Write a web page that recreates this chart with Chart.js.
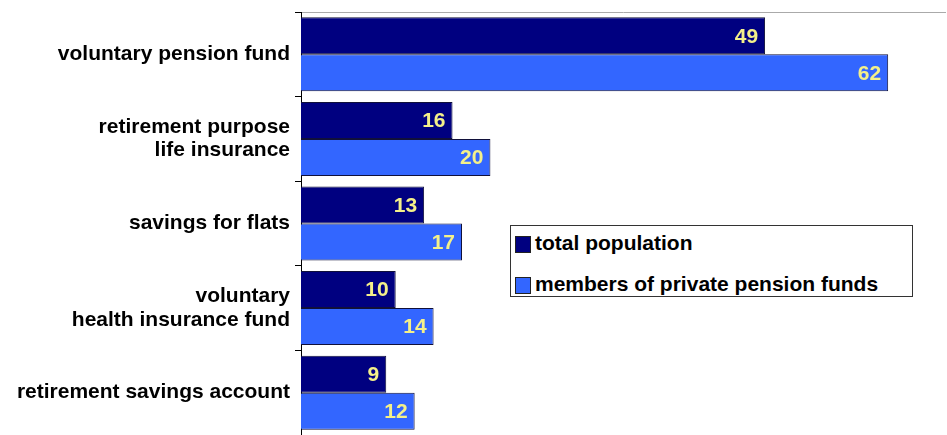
<!DOCTYPE html>
<html>
<head>
<meta charset="utf-8">
<script src="https://cdn.jsdelivr.net/npm/chart.js@4.4.0/dist/chart.umd.min.js"></script>
<style>
  html, body { margin: 0; padding: 0; background: #fff; }
  #wrap { position: relative; width: 947px; height: 435px; }
  #legend {
    position: absolute; left: 510px; top: 225px; width: 403px; height: 72px;
    border: 1px solid #333; background: #fff; box-sizing: border-box;
    font: bold 21px "Liberation Sans", Arial, sans-serif; color: #000; line-height: 24px;
  }
  #legend div { position: absolute; left: 4px; white-space: nowrap; }
  #legend span { display: inline-block; width: 14px; height: 15px; border: 1px solid #222; margin-right: 4px; vertical-align: -3px; }
</style>
</head>
<body>
<div id="wrap">
  <canvas id="chart" width="947" height="435"></canvas>
  <div id="legend"></div>
</div>
<script>
const categories = [
  'voluntary pension fund',
  ['retirement purpose', 'life insurance'],
  'savings for flats',
  ['voluntary', 'health insurance fund'],
  'retirement savings account'
];
const seriesNames = ['total population', 'members of private pension funds'];
const totalPopulation = [49, 16, 13, 10, 9];
const pensionMembers = [62, 20, 17, 14, 12];
const seriesColors = ['#000080', '#3366ff'];

const valueLabels = {
  id: 'valueLabels',
  afterDatasetsDraw(chart) {
    const ctx = chart.ctx;
    ctx.save();
    ctx.font = 'bold 21px "Liberation Sans", Arial, sans-serif';
    ctx.fillStyle = '#f4f08a';
    ctx.textAlign = 'right';
    ctx.textBaseline = 'middle';
    chart.data.datasets.forEach((ds, i) => {
      chart.getDatasetMeta(i).data.forEach((bar, j) => {
        ctx.fillText(String(ds.data[j]), bar.x - 7, bar.y + 1);
      });
    });
    ctx.restore();
  }
};

const chart = new Chart(document.getElementById('chart').getContext('2d'), {
  type: 'bar',
  data: {
    labels: categories,
    datasets: [
      { label: seriesNames[0], data: totalPopulation, backgroundColor: seriesColors[0], borderColor: '#10103a', borderWidth: 1 },
      { label: seriesNames[1], data: pensionMembers, backgroundColor: seriesColors[1], borderColor: '#10103a', borderWidth: 1 }
    ]
  },
  options: {
    indexAxis: 'y',
    responsive: false,
    animation: false,
    layout: { padding: { left: 0, right: 2, top: 0, bottom: 0 } },
    datasets: { bar: { categoryPercentage: 0.875, barPercentage: 1 } },
    plugins: { legend: { display: false }, tooltip: { enabled: false } },
    scales: {
      x: {
        position: 'top',
        min: 0,
        max: 68,
        grid: { display: false },
        ticks: { display: false },
        border: { display: true, color: '#aaa', width: 1 },
        afterFit(scale) { scale.height = 12; scale.paddingLeft = 0; scale.paddingRight = 0; }
      },
      y: {
        grid: { offset: true, drawOnChartArea: false, drawTicks: true, tickLength: 6, color: '#000' },
        border: { display: true, color: '#000', width: 1 },
        ticks: {
          color: '#000',
          padding: 5,
          font: { family: '"Liberation Sans", Arial, sans-serif', size: 21, weight: 'bold', lineHeight: 1.12 }
        },
        afterFit(scale) { scale.width = 301; scale.paddingTop = 0; scale.paddingBottom = 0; }
      }
    }
  },
  plugins: [valueLabels]
});

const legend = document.getElementById('legend');
chart.data.datasets.forEach((ds, i) => {
  const row = document.createElement('div');
  row.style.top = (i === 0 ? 5 : 46) + 'px';
  row.innerHTML = '<span style="background:' + ds.backgroundColor + '"></span>' + ds.label;
  legend.appendChild(row);
});
</script>
</body>
</html>
